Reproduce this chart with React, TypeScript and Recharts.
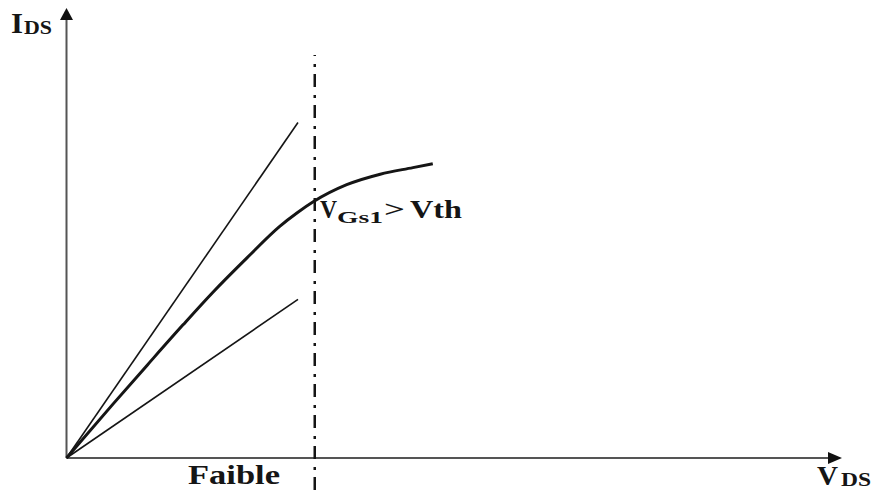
import React from "react";
import {
  LineChart,
  Line,
  XAxis,
  YAxis,
  ReferenceLine,
  ReferenceDot
} from "recharts";

// V_DS / I_DS in arbitrary units (axes run 0..10)
const steepX = [0, 3.04];
const steepY = [0, 7.66];
const shallowX = [0, 3.04];
const shallowY = [0, 3.62];
const curveX = [0, 0.61, 1.06, 1.53, 1.92, 2.37, 2.8, 3.03, 3.24, 3.68, 4.12, 4.55, 4.81];
const curveY = [0, 1.23, 2.12, 3.04, 3.78, 4.57, 5.29, 5.6, 5.85, 6.24, 6.48, 6.63, 6.72];
const saturationV = 3.26;
const saturationSpan = [-0.73, 9.2];
const axisMax = 10;

const zip = (xs: number[], ys: number[]) => xs.map((v, k) => ({ v, i: ys[k] }));

const steepData = zip(steepX, steepY);
const shallowData = zip(shallowX, shallowY);
const curveData = zip(curveX, curveY);

const ink = "#151515";
const axisGrey = "#555";
const serif = "'Liberation Serif', 'Times New Roman', serif";

const ArrowRight = (p: any) => (
  <polygon
    points={`${p.cx},${p.cy - 6} ${p.cx + 14},${p.cy} ${p.cx},${p.cy + 6}`}
    fill="#111"
  />
);

const ArrowUp = (p: any) => (
  <polygon
    points={`${p.cx - 6.5},${p.cy} ${p.cx},${p.cy - 12} ${p.cx + 6.5},${p.cy}`}
    fill="#111"
  />
);

const T = (props: any) => (
  <text
    fontFamily={serif}
    fontWeight="bold"
    fill={ink}
    lengthAdjust="spacingAndGlyphs"
    {...props}
  />
);

export default function App() {
  return (
    <div style={{ position: "absolute", left: 0, top: 0, background: "#fff" }}>
      <LineChart
        width={877}
        height={490}
        margin={{ top: 20, right: 49, bottom: 32, left: 66.5 }}
      >
        <XAxis type="number" dataKey="v" domain={[0, axisMax]} hide />
        <YAxis type="number" dataKey="i" domain={[0, axisMax]} hide />

        <ReferenceLine x={0} stroke={axisGrey} strokeWidth={2} />
        <ReferenceLine y={0} stroke={axisGrey} strokeWidth={2} />
        <ReferenceDot x={axisMax} y={0} ifOverflow="visible" shape={ArrowRight} />
        <ReferenceDot x={0} y={axisMax} ifOverflow="visible" shape={ArrowUp} />

        <ReferenceLine
          segment={[
            { x: saturationV, y: saturationSpan[0] },
            { x: saturationV, y: saturationSpan[1] }
          ]}
          ifOverflow="visible"
          stroke={ink}
          strokeWidth={2.5}
          strokeDasharray="13 7 3 8"
        />

        <Line
          data={steepData}
          dataKey="i"
          type="linear"
          stroke={ink}
          strokeWidth={1.6}
          dot={false}
          activeDot={false}
          isAnimationActive={false}
        />
        <Line
          data={shallowData}
          dataKey="i"
          type="linear"
          stroke={ink}
          strokeWidth={1.6}
          dot={false}
          activeDot={false}
          isAnimationActive={false}
        />
        <Line
          data={curveData}
          dataKey="i"
          type="monotone"
          stroke={ink}
          strokeWidth={3}
          dot={false}
          activeDot={false}
          isAnimationActive={false}
        />

        {/* axis names */}
        <T x={11} y={33} fontSize={30} textLength={12}>I</T>
        <T x={24} y={34} fontSize={19} textLength={28}>DS</T>
        <T x={817} y={485} fontSize={28} textLength={21}>V</T>
        <T x={841} y={486} fontSize={18} textLength={30}>DS</T>
        <T x={188} y={484} fontSize={28} textLength={92}>Faible</T>

        {/* operating point label */}
        <T x={320} y={218} fontSize={25} textLength={17}>V</T>
        <T x={337} y={223} fontSize={17} textLength={46}>Gs1</T>
        <T x={384} y={217} fontSize={24} textLength={21}>&gt;</T>
        <T x={410} y={218} fontSize={25} textLength={52}>Vth</T>
      </LineChart>
    </div>
  );
}
